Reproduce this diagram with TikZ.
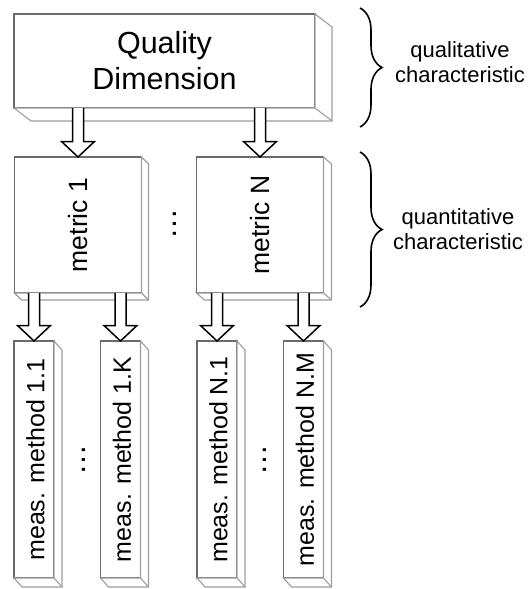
\documentclass[tikz,border=0pt]{standalone}
\usepackage{fontspec}
\usepackage{graphicx}
\setmainfont{Liberation Sans}
\usetikzlibrary{calc,decorations.pathreplacing}

\tikzset{
  face/.style={draw=black!58, fill=white, line width=1.2pt, inner sep=0pt, outer sep=0pt},
  side/.style={draw=black!38, fill=white, line width=1.1pt, line join=miter},
  hollow/.style={draw=black, fill=white, line width=1.5pt, line join=miter},
  bracket/.style={decorate, decoration={brace, amplitude=22pt, aspect=0.5}, line width=1.6pt},
  qfont/.style={font=\fontsize{30.5}{36}\selectfont},
  mfont/.style={font=\fontsize{26.5}{30}\selectfont},
  sfont/.style={font=\fontsize{25}{29}\selectfont},
  cfont/.style={font=\fontsize{22}{25}\selectfont},
  dotsfont/.style={font=\fontsize{31}{32}\selectfont},
}

% right and bottom faces of a box drawn as a slab: node, depth x, depth y
\newcommand\slabsides[3]{%
  \draw[side] (#1.north east) -- ++(#2,#3) -- ($(#1.south east)+(#2,#3)$)
    -- ($(#1.south west)+(#2,#3)$) -- (#1.south west) -- (#1.south east) -- cycle;
  \draw[side] (#1.south east) -- ++(#2,#3);
}

% hollow block arrow from coordinate #1 down to coordinate #2
\newcommand\hollowarrow[2]{%
  \draw[hollow] ($(#1)+(-5.5,0)$) -- ($(#2)+(-5.5,-15.5)$) -- ($(#2)+(-16.5,-15.5)$)
    -- (#2) -- ($(#2)+(16.5,-15.5)$) -- ($(#2)+(5.5,-15.5)$) -- ($(#1)+(5.5,0)$);
}

\begin{document}
\begin{tikzpicture}[x=1pt, y=-1pt]
  \path[fill=white] (0,0) rectangle (528,589);
  \useasboundingbox (0,0) rectangle (528,589);

  % quality dimension
  \node[face, qfont, align=center, minimum width=301pt, minimum height=94pt] (qd) at (164.5,61) {Quality\\Dimension};
  \slabsides{qd}{17}{13}

  % metrics
  \node[face, mfont, minimum width=127pt, minimum height=136pt] (m1) at (78,225) {\rotatebox{90}{metric 1}};
  \slabsides{m1}{7}{7}
  \node[face, mfont, minimum width=127pt, minimum height=136pt] (mN) at (260,225) {\rotatebox{90}{metric N}};
  \slabsides{mN}{8}{7}
  \node[dotsfont, rotate=90] (dm) at (175,224) {…};

  % measurement methods
  \node[face, sfont, minimum width=40pt, minimum height=237pt] (s11) at (34,459.5) {\hspace*{3pt}\rotatebox{90}{meas. method 1.1}};
  \slabsides{s11}{8}{9}
  \node[face, sfont, minimum width=40pt, minimum height=237pt] (s1K) at (120.5,459.5) {\hspace*{3pt}\rotatebox{90}{meas. method 1.K}};
  \slabsides{s1K}{8}{9}
  \node[face, sfont, minimum width=40pt, minimum height=237pt] (sN1) at (217,459.5) {\hspace*{3pt}\rotatebox{90}{meas. method N.1}};
  \slabsides{sN1}{8}{9}
  \node[face, sfont, minimum width=40pt, minimum height=237pt] (sNM) at (303.5,459.5) {\hspace*{3pt}\rotatebox{90}{meas. method N.M}};
  \slabsides{sNM}{8}{9}
  \node[dotsfont, rotate=90] (d1) at (84,460) {…};
  \node[dotsfont, rotate=90] (dN) at (265,460) {…};

  % arrows
  \coordinate (qa1) at (qd.south -| m1.north);
  \coordinate (qaN) at (qd.south -| mN.north);
  \hollowarrow{qa1}{m1.north}
  \hollowarrow{qaN}{mN.north}
  \coordinate (ma11) at (m1.south -| s11.north);
  \coordinate (ma1K) at (m1.south -| s1K.north);
  \coordinate (maN1) at (mN.south -| sN1.north);
  \coordinate (maNM) at (mN.south -| sNM.north);
  \hollowarrow{ma11}{s11.north}
  \hollowarrow{ma1K}{s1K.north}
  \hollowarrow{maN1}{sN1.north}
  \hollowarrow{maNM}{sNM.north}

  % braces and their captions
  \coordinate (b1t) at (360,8);
  \coordinate (b1b) at (360,127);
  \coordinate (b2t) at (360,152);
  \coordinate (b2b) at (360,307);
  \draw[bracket] (b1t) -- (b1b);
  \draw[bracket] (b2t) -- (b2b);
  \node[cfont, align=center] (qual) at (460,62) {qualitative\\characteristic};
  \node[cfont, align=center] (quant) at (458,229) {quantitative\\characteristic};
\end{tikzpicture}
\end{document}
